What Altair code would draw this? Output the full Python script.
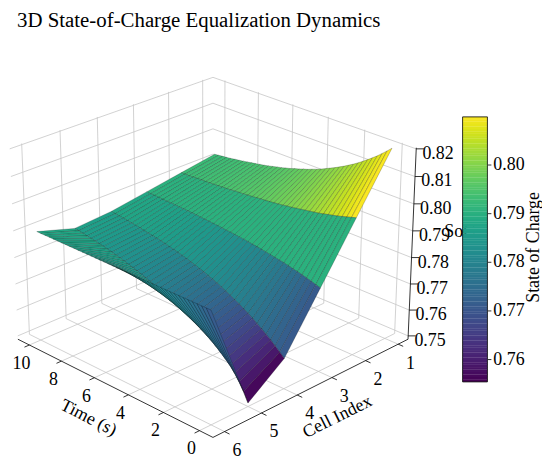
import math
import altair as alt
import numpy as np
import pandas as pd

# ----------------------------------------------------------------- data
cells = [1, 2, 3, 4, 5, 6]
times = [0.0, 0.25, 0.5, 0.75, 1.0, 1.25, 1.5, 1.75, 2.0, 2.25, 2.5, 2.75, 3.0, 3.25,
         3.5, 3.75, 4.0, 4.25, 4.5, 4.75, 5.0, 5.25, 5.5, 5.75, 6.0, 6.25, 6.5, 6.75,
         7.0, 7.25, 7.5, 7.75, 8.0, 8.25, 8.5, 8.75, 9.0, 9.25, 9.5, 9.75, 10.0]
soc_cell1 = [0.8200, 0.8184, 0.8169, 0.8154, 0.8141, 0.8128, 0.8116, 0.8104, 0.8093, 0.8083,
             0.8073, 0.8064, 0.8055, 0.8047, 0.8039, 0.8031, 0.8024, 0.8018, 0.8011, 0.8006,
             0.8000, 0.7995, 0.7989, 0.7985, 0.7980, 0.7976, 0.7972, 0.7968, 0.7964, 0.7961,
             0.7958, 0.7955, 0.7952, 0.7949, 0.7946, 0.7944, 0.7941, 0.7939, 0.7937, 0.7935,
             0.7933]
soc_cell2 = [0.8000, 0.7995, 0.7990, 0.7985, 0.7980, 0.7976, 0.7972, 0.7968, 0.7964, 0.7961,
             0.7958, 0.7955, 0.7952, 0.7949, 0.7946, 0.7944, 0.7941, 0.7939, 0.7937, 0.7935,
             0.7933, 0.7932, 0.7930, 0.7928, 0.7927, 0.7925, 0.7924, 0.7923, 0.7921, 0.7920,
             0.7919, 0.7918, 0.7917, 0.7916, 0.7915, 0.7915, 0.7914, 0.7913, 0.7912, 0.7912,
             0.7911]
soc_cell3 = [0.7800, 0.7805, 0.7810, 0.7815, 0.7820, 0.7824, 0.7828, 0.7832, 0.7836, 0.7839,
             0.7842, 0.7845, 0.7848, 0.7851, 0.7854, 0.7856, 0.7859, 0.7861, 0.7863, 0.7865,
             0.7867, 0.7868, 0.7870, 0.7872, 0.7873, 0.7875, 0.7876, 0.7877, 0.7879, 0.7880,
             0.7881, 0.7882, 0.7883, 0.7884, 0.7885, 0.7885, 0.7886, 0.7887, 0.7888, 0.7888,
             0.7889]
soc_cell4 = [0.7600, 0.7616, 0.7631, 0.7646, 0.7659, 0.7672, 0.7684, 0.7696, 0.7707, 0.7717,
             0.7727, 0.7736, 0.7745, 0.7753, 0.7761, 0.7769, 0.7776, 0.7782, 0.7789, 0.7794,
             0.7800, 0.7805, 0.7811, 0.7815, 0.7820, 0.7824, 0.7828, 0.7832, 0.7836, 0.7839,
             0.7842, 0.7845, 0.7848, 0.7851, 0.7854, 0.7856, 0.7859, 0.7861, 0.7863, 0.7865,
             0.7867]
soc_cell5 = [0.7500, 0.7535, 0.7563, 0.7587, 0.7607, 0.7623, 0.7638, 0.7652, 0.7665, 0.7676,
             0.7687, 0.7697, 0.7706, 0.7715, 0.7724, 0.7732, 0.7740, 0.7748, 0.7755, 0.7763,
             0.7770, 0.7777, 0.7783, 0.7789, 0.7795, 0.7801, 0.7806, 0.7811, 0.7816, 0.7821,
             0.7825, 0.7829, 0.7833, 0.7837, 0.7840, 0.7843, 0.7846, 0.7849, 0.7852, 0.7855,
             0.7857]
soc_cell6 = [0.7900, 0.7900, 0.7900, 0.7900, 0.7900, 0.7900, 0.7900, 0.7900, 0.7900, 0.7900,
             0.7900, 0.7900, 0.7900, 0.7900, 0.7900, 0.7900, 0.7900, 0.7900, 0.7900, 0.7900,
             0.7900, 0.7900, 0.7900, 0.7900, 0.7900, 0.7900, 0.7900, 0.7900, 0.7900, 0.7900,
             0.7900, 0.7900, 0.7900, 0.7900, 0.7900, 0.7900, 0.7900, 0.7900, 0.7900, 0.7900,
             0.7900]
soc_by_cell = [soc_cell1, soc_cell2, soc_cell3, soc_cell4, soc_cell5, soc_cell6]

time_ticks = [0, 2, 4, 6, 8, 10]
cell_ticks = [1, 2, 3, 4, 5, 6]
soc_ticks = [0.75, 0.76, 0.77, 0.78, 0.79, 0.80, 0.81, 0.82]
cbar_ticks = [0.76, 0.77, 0.78, 0.79, 0.80]
cbar_range = [0.7553, 0.8098]

title_text = "3D State-of-Charge Equalization Dynamics"
time_title = "Time (s)"
cell_title = "Cell Index"
soc_title = "SoC"
cbar_title = "State of Charge"

# ----------------------------------------------------------------- 3D view (box limits, camera)
FONT = "Liberation Serif"
tmn, tmx = -0.73, 10.73
cmn, cmx = 0.6925, 6.3075
zmn, zmx = 0.7487, 0.8204

asp = np.array([1.3073, 1.3073, 0.9805])
el, az = math.radians(25.0), math.radians(135.0)
DIST = 10.0
WV = (math.cos(el) * math.cos(az), math.cos(el) * math.sin(az), math.sin(el))
UV = (-math.sin(az), math.cos(az), 0.0)
VV = (-math.sin(el) * math.cos(az), -math.sin(el) * math.sin(az), math.cos(el))

K = 2170.0
CX, CY = 211.5, 244.55
OX, OY = 8.0, 32.0
W, H = 480, 428
SXD = [(OX - CX) / K, (OX + W - CX) / K]
SYD = [(CY - OY - H) / K, (CY - OY) / K]


def toward_eye(t, c, z):
    px = asp[0] * ((t - tmn) / (tmx - tmn) - 0.5)
    py = asp[1] * ((c - cmn) / (cmx - cmn) - 0.5)
    pz = asp[2] * ((z - zmn) / (zmx - zmn) - 0.5)
    return WV[0] * px + WV[1] * py + WV[2] * pz


def projected(chart):
    return chart.transform_calculate(
        px=f"{asp[0]:.6f}*((datum.t-({tmn}))/{tmx - tmn:.6f}-0.5)",
        py=f"{asp[1]:.6f}*((datum.c-({cmn}))/{cmx - cmn:.6f}-0.5)",
        pz=f"{asp[2]:.6f}*((datum.z-({zmn}))/{zmx - zmn:.6f}-0.5)",
        den=f"{DIST}-(({WV[0]:.6f})*datum.px+({WV[1]:.6f})*datum.py+({WV[2]:.6f})*datum.pz)",
        sx=f"(({UV[0]:.6f})*datum.px+({UV[1]:.6f})*datum.py)/datum.den",
        sy=f"(({VV[0]:.6f})*datum.px+({VV[1]:.6f})*datum.py+({VV[2]:.6f})*datum.pz)/datum.den",
    )


XE = alt.X("sx:Q", scale=alt.Scale(domain=SXD, nice=False, zero=False), axis=None)
YE = alt.Y("sy:Q", scale=alt.Scale(domain=SYD, nice=False, zero=False), axis=None)
color_scale = alt.Scale(scheme="viridis", domain=cbar_range, clamp=True)

# ----------------------------------------------------------------- box: panes, grid, axes
pane_rows = []
panes = [
    ("floor", "#f5f5f5", [(tmn, cmn, zmn), (tmx, cmn, zmn), (tmx, cmx, zmn), (tmn, cmx, zmn)]),
    ("time_wall", "#f7f7f7", [(tmx, cmn, zmn), (tmx, cmx, zmn), (tmx, cmx, zmx), (tmx, cmn, zmx)]),
    ("cell_wall", "#f1f1f1", [(tmn, cmn, zmn), (tmx, cmn, zmn), (tmx, cmn, zmx), (tmn, cmn, zmx)]),
]
for name, col, pts in panes:
    for k, (t, c, z) in enumerate(pts + [pts[0]]):
        pane_rows.append({"id": name, "k": k, "t": t, "c": c, "z": z, "fillc": col})
pane_layer = projected(alt.Chart(pd.DataFrame(pane_rows))).mark_line(
    filled=True, strokeOpacity=0).encode(
    x=XE, y=YE, order=alt.Order("k:Q"), detail="id:N", color=alt.Color("fillc:N", scale=None))


def seg_df(segs):
    rows = []
    for n, (a, b) in enumerate(segs):
        for k, (t, c, z) in enumerate([a, b]):
            rows.append({"id": f"s{n:03d}", "k": k, "t": t, "c": c, "z": z})
    return pd.DataFrame(rows)


grid_segs = []
for tv in time_ticks:
    grid_segs.append(((tv, cmn, zmn), (tv, cmx, zmn)))
    grid_segs.append(((tv, cmn, zmn), (tv, cmn, zmx)))
for cv in cell_ticks:
    grid_segs.append(((tmn, cv, zmn), (tmx, cv, zmn)))
    grid_segs.append(((tmx, cv, zmn), (tmx, cv, zmx)))
for zv in soc_ticks:
    grid_segs.append(((tmx, cmn, zv), (tmx, cmx, zv)))
    grid_segs.append(((tmn, cmn, zv), (tmx, cmn, zv)))
grid_layer = projected(alt.Chart(seg_df(grid_segs))).mark_line(
    color="#c6c6c6", strokeWidth=0.8).encode(x=XE, y=YE, order=alt.Order("k:Q"), detail="id:N")

axis_segs = [((tmn, cmx, zmn), (tmx, cmx, zmn)),
             ((tmn, cmn, zmn), (tmn, cmx, zmn)),
             ((tmn, cmn, zmn), (tmn, cmn, zmx))]
for tv in time_ticks:
    axis_segs.append(((tv, cmx, zmn), (tv, cmx + 0.13, zmn)))
for cv in cell_ticks:
    axis_segs.append(((tmn, cv, zmn), (tmn - 0.27, cv, zmn)))
for zv in soc_ticks:
    axis_segs.append(((tmn, cmn, zv), (tmn - 0.22, cmn - 0.11, zv)))
axis_layer = projected(alt.Chart(seg_df(axis_segs))).mark_line(
    color="black", strokeWidth=0.8).encode(x=XE, y=YE, order=alt.Order("k:Q"), detail="id:N")


def text_layer(df, dx, dy, angle=0, size=18):
    # dx/dy are given on the page; Vega applies them before rotation, so rotate back
    th = math.radians(angle)
    tdx = dx * math.cos(th) + dy * math.sin(th)
    tdy = -dx * math.sin(th) + dy * math.cos(th)
    return projected(alt.Chart(df)).mark_text(
        font=FONT, fontSize=size, color="black", align="center", baseline="middle",
        dx=round(tdx, 2), dy=round(tdy, 2), angle=angle).encode(x=XE, y=YE, text="lab:N")


time_lab = text_layer(pd.DataFrame({"t": time_ticks, "c": cmx, "z": zmn,
                                    "lab": [str(v) for v in time_ticks]}), -8, 19)
cell_lab = text_layer(pd.DataFrame({"t": tmn, "c": cell_ticks, "z": zmn,
                                    "lab": [str(v) for v in cell_ticks]}), 12.5, 19.5)
soc_lab = text_layer(pd.DataFrame({"t": tmn, "c": cmn, "z": soc_ticks,
                                   "lab": [f"{v:.2f}" for v in soc_ticks]}), 22, 5)
time_ttl = text_layer(pd.DataFrame({"t": [5.0], "c": [cmx], "z": [zmn], "lab": [time_title]}),
                      -23, 32, angle=27)
cell_ttl = text_layer(pd.DataFrame({"t": [tmn], "c": [3.5], "z": [zmn], "lab": [cell_title]}),
                      23, 31, angle=333.5)
soc_ttl = text_layer(pd.DataFrame({"t": [tmn], "c": [cmn], "z": [0.785], "lab": [soc_title]}),
                     48, -12)

# ----------------------------------------------------------------- surface facets
rows = []
quads = []
for i in range(len(cells) - 1):
    for j in range(len(times) - 1):
        corners = [(j, i), (j, i + 1), (j + 1, i + 1), (j + 1, i)]
        zs = [soc_by_cell[ii][jj] for jj, ii in corners]
        depth = float(np.mean([toward_eye(times[jj], cells[ii], soc_by_cell[ii][jj])
                               for jj, ii in corners]))
        quads.append((depth, corners, float(np.mean(zs))))
quads.sort(key=lambda q: q[0])
for n, (depth, corners, avg) in enumerate(quads):
    for k, (jj, ii) in enumerate(corners + [corners[0]]):
        rows.append({"q": f"q{n:03d}", "k": k, "t": times[jj], "c": cells[ii],
                     "z": soc_by_cell[ii][jj], "col": avg})
surf = pd.DataFrame(rows)
surface_layer = projected(alt.Chart(surf)).mark_line(
    filled=True, stroke="black", strokeWidth=0.35, strokeOpacity=0.6).encode(
    x=XE, y=YE, order=alt.Order("k:Q"), detail="q:N",
    color=alt.Color("col:Q", scale=color_scale, legend=None))

# ----------------------------------------------------------------- colorbar
lo, hi = cbar_range
cb_top, cb_bot = 115.0, 382.0
v_at = lambda ypage: lo + (cb_bot - ypage) / (cb_bot - cb_top) * (hi - lo)
CBY = [v_at(OY + H), v_at(OY)]
CBX = [-(463.0 - OX) / 25.0, 1.0]
step = 0.0005
cb_x = alt.X("x0:Q", scale=alt.Scale(domain=CBX, nice=False, zero=False), axis=None)
cbar_grad = alt.Chart(alt.sequence(lo, hi, step, as_="v")).transform_calculate(
    v2=f"min(datum.v + {step * 1.1}, {hi})", x0="0", x1="1").mark_rect(strokeWidth=0).encode(
    x=cb_x, x2="x1:Q",
    y=alt.Y("v:Q", scale=alt.Scale(domain=CBY, nice=False, zero=False),
            axis=alt.Axis(orient="right", values=cbar_ticks, format=".2f", domain=False, grid=False,
                          tickSize=3.5, tickColor="black", tickWidth=0.8, labelPadding=2,
                          labelFont=FONT, labelFontSize=18, labelColor="black",
                          title=cbar_title, titleFont=FONT, titleFontSize=18,
                          titleFontWeight="normal", titleColor="black", titleAngle=270,
                          titleBaseline="top", titlePadding=0)),
    y2="v2:Q",
    color=alt.Color("v:Q", scale=color_scale, legend=None))
cbar_box = alt.Chart(pd.DataFrame({"lo": [lo], "hi": [hi], "x0": [0], "x1": [1]})).mark_rect(
    fillOpacity=0, stroke="black", strokeWidth=0.8).encode(
    x=cb_x, x2="x1:Q",
    y=alt.Y("lo:Q", scale=alt.Scale(domain=CBY, nice=False, zero=False), axis=None),
    y2="hi:Q")

chart = alt.layer(
    pane_layer, grid_layer, axis_layer, time_lab, cell_lab, soc_lab,
    time_ttl, cell_ttl, soc_ttl, surface_layer, cbar_grad, cbar_box,
).resolve_scale(x="independent", y="independent").properties(
    width=W, height=H, padding=0,
    title=alt.Title(title_text, anchor="start", font=FONT, fontSize=21, fontWeight="normal",
                    color="black", offset=4, dx=9),
).configure_view(stroke=None)

chart.save("out.html", embed_options={"renderer": "svg", "actions": False})
